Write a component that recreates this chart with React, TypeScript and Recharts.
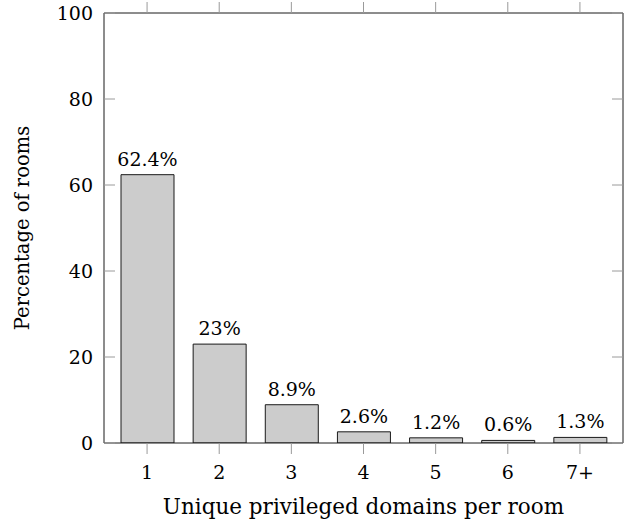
import React from "react";
import { BarChart, Bar, XAxis, YAxis, LabelList } from "recharts";

const categories = ["1", "2", "3", "4", "5", "6", "7+"];
const percentages = [62.4, 23, 8.9, 2.6, 1.2, 0.6, 1.3];
const yTicks = [0, 20, 40, 60, 80, 100];
const xTitle = "Unique privileged domains per room";
const yTitle = "Percentage of rooms";

const data = categories.map((c, i) => ({ cat: c, v: percentages[i] }));

const FONT = "'DejaVu Serif', serif";
const FS = 19;
const TICK_COLOR = "#9a9a9a";
const AXIS_COLOR = "#1a1a1a";
const TICK_LEN = 11;

const EmptyTick = () => <g />;

const YLabel = (props: any) => {
  const vb = props.viewBox || {};
  const cx = (vb.x ?? 0) + 29;
  const cy = (vb.y ?? 0) + (vb.height ?? 0) / 2;
  return (
    <text
      x={cx}
      y={cy}
      transform={`rotate(-90 ${cx} ${cy})`}
      textAnchor="middle"
      fontFamily={FONT}
      fontSize={19.5}
      fill="#000"
    >
      {yTitle}
    </text>
  );
};

export default function App() {
  return (
    <div style={{ position: "absolute", left: 0, top: 0, width: 626, height: 525, background: "#fff" }}>
      <BarChart
        width={626}
        height={525}
        data={data}
        margin={{ top: 12, right: 3, bottom: 0, left: 0 }}
        barSize={53}
      >
        <XAxis
          xAxisId="b"
          dataKey="cat"
          type="category"
          orientation="bottom"
          height={82}
          padding={{ left: 7, right: 7 }}
          axisLine={{ stroke: AXIS_COLOR, strokeWidth: 1 }}
          tickLine={{ stroke: TICK_COLOR, strokeWidth: 1 }}
          tickSize={TICK_LEN}
          tickMargin={12}
          tick={{ fontFamily: FONT, fontSize: FS, fill: "#000" }}
          label={{
            value: xTitle,
            position: "insideBottom",
            offset: 11,
            style: { fontFamily: FONT, fontSize: 21.5, fill: "#000" },
          }}
        />
        <XAxis
          xAxisId="t"
          dataKey="cat"
          type="category"
          orientation="top"
          height={1}
          padding={{ left: 7, right: 7 }}
          axisLine={{ stroke: AXIS_COLOR, strokeWidth: 1 }}
          tickLine={{ stroke: TICK_COLOR, strokeWidth: 1 }}
          tickSize={TICK_LEN}
          tick={<EmptyTick />}
        />
        <YAxis
          yAxisId="l"
          type="number"
          orientation="left"
          width={104}
          domain={[0, 100]}
          ticks={yTicks}
          allowDataOverflow
          axisLine={{ stroke: AXIS_COLOR, strokeWidth: 1 }}
          tickLine={false}
          tickSize={0}
          tickMargin={11}
          tick={{ fontFamily: FONT, fontSize: FS, fill: "#000" }}
          label={<YLabel />}
        />
        <YAxis
          yAxisId="lm"
          type="number"
          orientation="left"
          width={1}
          mirror
          domain={[0, 100]}
          ticks={yTicks}
          allowDataOverflow
          axisLine={false}
          tickLine={{ stroke: TICK_COLOR, strokeWidth: 1 }}
          tickSize={TICK_LEN}
          tick={<EmptyTick />}
        />
        <YAxis
          yAxisId="r"
          type="number"
          orientation="right"
          width={1}
          mirror
          domain={[0, 100]}
          ticks={yTicks}
          allowDataOverflow
          axisLine={{ stroke: AXIS_COLOR, strokeWidth: 1 }}
          tickLine={{ stroke: TICK_COLOR, strokeWidth: 1 }}
          tickSize={TICK_LEN}
          tick={<EmptyTick />}
        />
        <Bar
          xAxisId="b"
          yAxisId="l"
          dataKey="v"
          fill="#cccccc"
          stroke="#1a1a1a"
          strokeWidth={1}
          isAnimationActive={false}
        >
          <LabelList
            dataKey="v"
            position="top"
            offset={9}
            formatter={(v: any) => `${v}%`}
            style={{ fontFamily: FONT, fontSize: FS, fill: "#000" }}
          />
        </Bar>
      </BarChart>
    </div>
  );
}
